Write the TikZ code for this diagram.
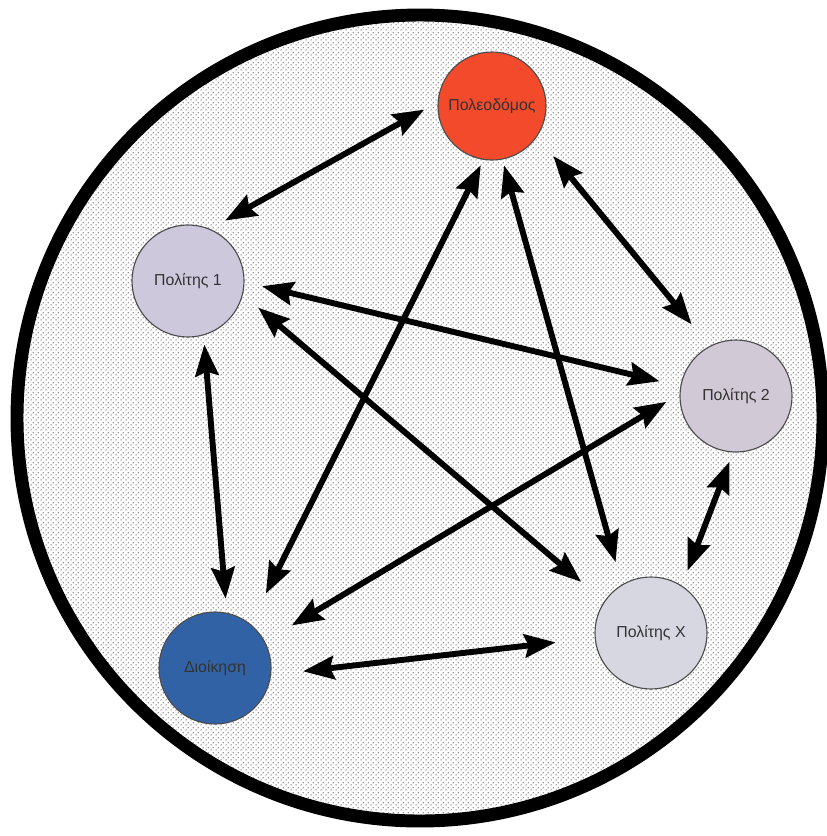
\documentclass[tikz,border=0pt]{standalone}
\usepackage{fontspec}
\setmainfont{Liberation Sans}
\usetikzlibrary{arrows.meta,patterns.meta}
\definecolor{kokkino}{HTML}{F24A2B}
\definecolor{mple}{HTML}{3262A6}
\definecolor{lila}{HTML}{CDC8DC}
\definecolor{lilagkri}{HTML}{D2C9D7}
\definecolor{gkri}{HTML}{D7D7E1}
\tikzdeclarepattern{
  name=koukides,
  type=uncolored,
  bounding box={(0pt,0pt) and (3.6pt,3.6pt)},
  tile size={(3.6pt,3.6pt)},
  code={\fill (0.9pt,0.9pt) circle (0.6pt) (2.7pt,2.7pt) circle (0.6pt);}
}

\begin{document}
\begin{tikzpicture}[x=0.025cm,y=-0.025cm,
      kyklos/.style={circle,draw=black!70,line width=0.8pt,minimum size=2.8cm,inner sep=0pt,
                     font=\fontsize{11.3}{13}\selectfont,text=black!80},
      velos/.style={{Stealth[length=0.78cm,width=0.58cm,inset=0.1cm]}-{Stealth[length=0.78cm,width=0.58cm,inset=0.1cm]},
                    line width=4.2pt,black}]
    \useasboundingbox (0,0) rectangle (827,836);
    \draw[line width=9.2pt,pattern=koukides,pattern color=black!55] (420,418) circle (403);
    \node[kyklos,fill=kokkino,minimum size=2.7cm] (o) at (492,106) {Πολεοδόμος};
    \node[kyklos,fill=lila] (a) at (188,281) {Πολίτης 1};
    \node[kyklos,fill=lilagkri] (b) at (736,396) {Πολίτης 2};
    \node[kyklos,fill=gkri] (x) at (651,633) {Πολίτης Χ};
    \node[kyklos,fill=mple] (d) at (215,668) {Διοίκηση};
    \draw[velos,shorten <=0.43cm,shorten >=0.38cm] (a.67) -- (o.176);
    \draw[velos,shorten <=0.63cm,shorten >=0.7cm] (o.-34) -- (b.118);
    \draw[velos,shorten <=0.15cm,shorten >=0.85cm] (o.-99) -- (d.51);
    \draw[velos,shorten <=0.15cm,shorten >=0.58cm] (o.-79) -- (x.121);
    \draw[velos,shorten <=0.45cm,shorten >=0.53cm] (a.-1) -- (b.170);
    \draw[velos,shorten <=0.5cm,shorten >=0.75cm] (a.-14) -- (x.146);
    \draw[velos,shorten <=0.23cm,shorten >=0.35cm] (a.-74) -- (d.78);
    \draw[velos,shorten <=0.38cm,shorten >=0.78cm] (b.178) -- (d.28);
    \draw[velos,shorten <=0.25cm,shorten >=0.4cm] (b.-93) -- (x.57);
    \draw[velos,shorten <=0.8cm,shorten >=0.98cm] (d.-7) -- (x.185);
  \end{tikzpicture}
\end{document}
